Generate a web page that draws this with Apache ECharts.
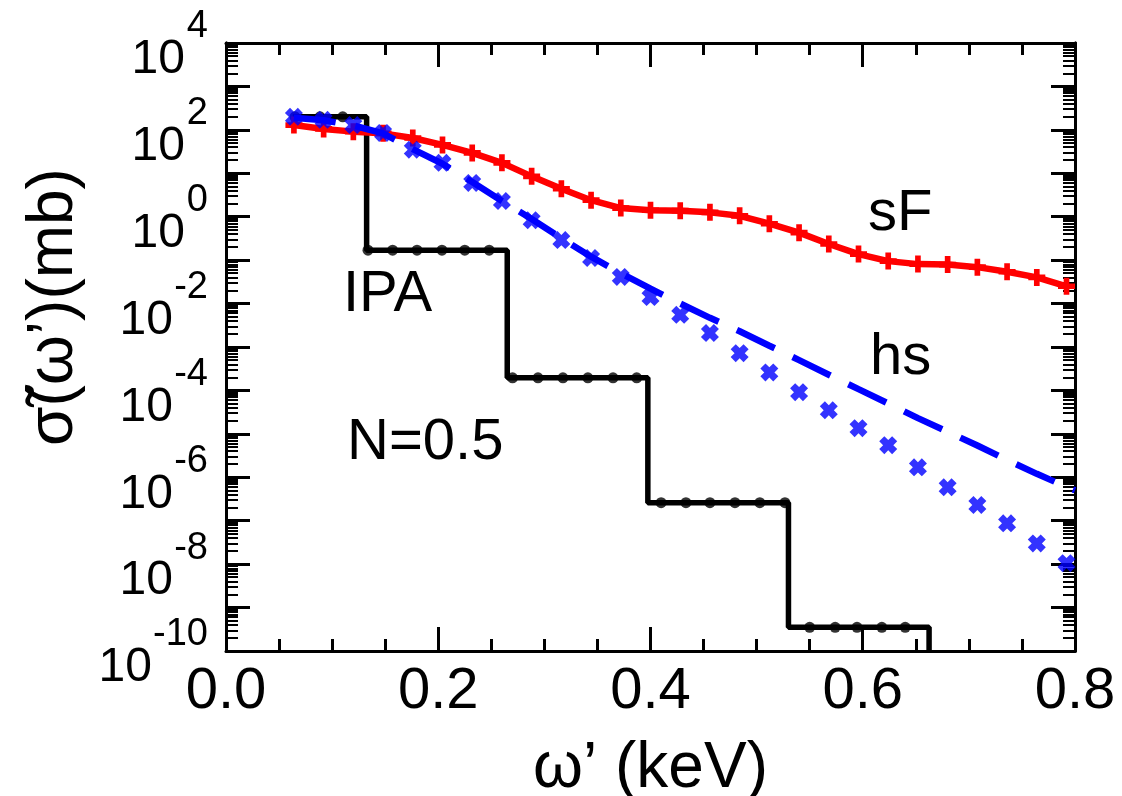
<!DOCTYPE html>
<html><head><meta charset="utf-8">
<script src="https://cdn.jsdelivr.net/npm/echarts@6/dist/echarts.min.js"></script>
<style>html,body{margin:0;padding:0;background:#fff}#c{width:1122px;height:796px}</style>
</head><body><div id="c"></div>
<script>
// ---------- data ----------
const xTickValues = [0, 0.2, 0.4, 0.6, 0.8];
const yLabelExps = [-10, -8, -6, -4, -2, 0, 2, 4];
const yDecadeExps = [-10, -9, -8, -7, -6, -5, -4, -3, -2, -1, 0, 1, 2, 3, 4];

// abscissas of the sF / hs markers (keV)
const markerX = [0.064, 0.092, 0.120, 0.148, 0.176, 0.204, 0.232, 0.260, 0.288, 0.316,
  0.344, 0.372, 0.400, 0.428, 0.456, 0.484, 0.512, 0.540, 0.568, 0.596,
  0.624, 0.652, 0.680, 0.708, 0.736, 0.764, 0.792];
// sF (red, solid + plus markers)
const sFValues = [1.29e2, 1.05e2, 9.1e1, 8.3e1, 6.5e1, 4.5e1, 2.95e1, 1.74e1, 8.5, 4.4,
  2.4, 1.58, 1.41, 1.38, 1.26, 1.05, 6.9e-1, 4.3e-1, 2.35e-1, 1.38e-1,
  9.5e-2, 8.1e-2, 7.9e-2, 6.9e-2, 5.4e-2, 4.0e-2, 2.5e-2];
// hs markers (blue crosses)
const hsMarkerValues = [2.0e2, 1.7e2, 1.29e2, 8.5e1, 3.5e1, 1.74e1, 6.0, 2.3, 8.3e-1, 2.9e-1,
  1.12e-1, 4.1e-2, 1.41e-2, 5.5e-3, 2.1e-3, 7.2e-4, 2.6e-4, 9.1e-5, 3.5e-5, 1.35e-5,
  5.5e-6, 1.7e-6, 5.9e-7, 2.3e-7, 8.7e-8, 3.0e-8, 1.05e-8];
// hs dashed line
const hsLineX = [0.064, 0.092, 0.120, 0.148, 0.176, 0.204, 0.232, 0.260, 0.288, 0.316,
  0.344, 0.372, 0.400, 0.428, 0.456, 0.484, 0.512, 0.540, 0.568, 0.596,
  0.624, 0.652, 0.680, 0.708, 0.736, 0.764, 0.792, 0.800];
const hsLineValues = [1.9e2, 1.66e2, 1.26e2, 8.3e1, 3.6e1, 1.66e1, 6.3, 2.3, 8.9e-1, 3.2e-1,
  1.2e-1, 5.0e-2, 2.2e-2, 1.0e-2, 4.7e-3, 2.3e-3, 1.07e-3, 5.0e-4, 2.3e-4, 1.07e-4,
  5.0e-5, 2.3e-5, 1.12e-5, 5.4e-6, 2.5e-6, 1.2e-6, 6.0e-7, 5.0e-7];
// IPA step line (black)
const ipaStepX = [0.063, 0.1325, 0.1325, 0.265, 0.265, 0.3975, 0.3975, 0.530, 0.530, 0.6625, 0.6625];
const ipaStepY = [2.0e2, 2.0e2, 1.7e-1, 1.7e-1, 1.95e-4, 1.95e-4, 2.6e-7, 2.6e-7, 3.5e-10, 3.5e-10, 1e-10];
// IPA dots
const ipaDotX = [0.065, 0.0886, 0.110, 0.1338, 0.157, 0.180, 0.2035, 0.225, 0.248,
  0.270, 0.294, 0.3175, 0.341, 0.3647, 0.387,
  0.410, 0.4334, 0.456, 0.4796, 0.503, 0.5267,
  0.550, 0.574, 0.5946, 0.618, 0.640];
const ipaDotY = [2.0e2, 2.0e2, 2.0e2, 1.7e-1, 1.7e-1, 1.7e-1, 1.7e-1, 1.7e-1, 1.7e-1,
  1.95e-4, 1.95e-4, 1.95e-4, 1.95e-4, 1.95e-4, 1.95e-4,
  2.6e-7, 2.6e-7, 2.6e-7, 2.6e-7, 2.6e-7, 2.6e-7,
  3.5e-10, 3.5e-10, 3.5e-10, 3.5e-10, 3.5e-10];

const annotations = [
  {text: 'sF', left: 868, y: 217},
  {text: 'hs', left: 870, y: 361},
  {text: 'IPA', left: 343, y: 298},
  {text: 'N=0.5', left: 347, y: 446}
];

// ---------- build ----------
const FONT = '"Liberation Sans", Arial, Helvetica, sans-serif';
const BASE_SIZE = 48, EXP_SIZE = 38;
const zip = (xs, ys) => xs.map((x, i) => [x, ys[i]]);
const majorVals = yDecadeExps.map(e => Math.pow(10, e));
const labelVals = yLabelExps.map(e => Math.pow(10, e));
const minorVals = [];
yDecadeExps.slice(0, -1).forEach(e => { for (let k = 2; k <= 9; k++) minorVals.push(k * Math.pow(10, e)); });

// measure exponent widths so that "10" sits just left of its superscript
const mctx = document.createElement('canvas').getContext('2d');
mctx.font = EXP_SIZE + 'px ' + FONT;
const yRich = {e: {fontSize: EXP_SIZE, fontFamily: FONT, color: '#000', lineHeight: 34}};
yLabelExps.forEach((ex, i) => {
  const w = Math.ceil(mctx.measureText(String(ex)).width) + 1;
  yRich['b' + i] = {fontSize: BASE_SIZE, fontFamily: FONT, color: '#000', lineHeight: 32, padding: [0, w, 0, 0]};
});

const PLUS = 'path://M2,0 H4 V2 H6 V4 H4 V6 H2 V4 H0 V2 H2 Z';
const CROSS = 'path://M0,1.7 L1.7,0 L3,1.3 L4.3,0 L6,1.7 L4.7,3 L6,4.3 L4.3,6 L3,4.7 L1.7,6 L0,4.3 L1.3,3 Z';

const axisLineStyle = {color: '#000', width: 3};
function xAx(pos, showLabel) {
  return {
    type: 'value', position: pos, min: 0, max: 0.8, interval: 0.2,
    axisLine: {show: true, onZero: false, lineStyle: axisLineStyle},
    axisTick: {show: true, inside: true, length: 24, lineStyle: {color: '#000', width: 3}},
    minorTick: {show: true, splitNumber: 4, length: 12, lineStyle: {color: '#000', width: 3}},
    splitLine: {show: false}, minorSplitLine: {show: false},
    axisLabel: {show: showLabel, fontSize: 58, fontFamily: FONT, color: '#000', margin: 12,
      showMinLabel: true, showMaxLabel: true, formatter: v => v.toFixed(1)},
    name: showLabel ? 'ω’ (keV)' : '', nameLocation: 'middle', nameGap: 86,
    nameTextStyle: {fontSize: 64, fontFamily: FONT, color: '#000'}
  };
}
function yAx(pos, major, showLabel) {
  const ax = {
    type: 'log', logBase: 10, position: pos, min: 1e-10, max: 1e4,
    axisLine: {show: true, onZero: false, lineStyle: axisLineStyle},
    axisTick: {show: true, inside: true, length: major ? 24 : 12,
      lineStyle: {color: '#000', width: major ? 3 : 2},
      customValues: major ? majorVals : minorVals},
    splitLine: {show: false},
    axisLabel: {show: false}
  };
  if (showLabel) {
    ax.axisLabel = {
      show: true, customValues: labelVals, margin: 18, align: 'right',
      formatter: v => {
        const ex = Math.round(Math.log10(v));
        const i = yLabelExps.indexOf(ex);
        return '{e|' + ex + '}\n{b' + i + '|10}';
      },
      rich: yRich
    };
    ax.name = 'σ̃(ω’)(mb)';
    ax.nameLocation = 'middle';
    ax.nameGap = 140;
    ax.nameRotate = 90;
    ax.nameTextStyle = {fontSize: 64, fontFamily: FONT, color: '#000', padding: [0, 0, 0, 80]};
  }
  return ax;
}

const chart = echarts.init(document.getElementById('c'), null, {renderer: 'canvas'});
chart.setOption({
  animation: false,
  backgroundColor: '#fff',
  grid: {left: 226, right: 47, top: 43, bottom: 145, containLabel: false, outerBoundsMode: 'none'},
  xAxis: [xAx('bottom', true), xAx('top', false)],
  yAxis: [yAx('left', true, true), yAx('left', false, false), yAx('right', true, false), yAx('right', false, false)],
  series: [
    {name: 'IPA', type: 'line', data: zip(ipaStepX, ipaStepY), showSymbol: false,
      lineStyle: {color: '#000', width: 5.5}, itemStyle: {color: '#000'}, z: 2},
    {name: 'IPA pts', type: 'scatter', data: zip(ipaDotX, ipaDotY), symbol: 'circle', symbolSize: 11,
      itemStyle: {color: '#000'}, z: 3},
    {name: 'sF', type: 'line', data: zip(markerX, sFValues), symbol: PLUS, symbolSize: 17, showAllSymbol: true,
      lineStyle: {color: '#ff0000', width: 6.5}, itemStyle: {color: '#ff0000'}, z: 4},
    {name: 'hs', type: 'line', data: zip(hsLineX, hsLineValues), showSymbol: false,
      lineStyle: {color: '#0000ff', width: 6.5, type: [42, 20]}, z: 5},
    {name: 'hs pts', type: 'scatter', data: zip(markerX, hsMarkerValues), symbol: CROSS, symbolSize: 18,
      itemStyle: {color: '#0000ff'}, z: 6}
  ],
  graphic: annotations.map(a => ({
    type: 'text', left: a.left, top: a.y - 32, z: 10,
    style: {text: a.text, fontSize: 58, fontFamily: FONT, fill: '#000'}
  }))
});
</script>
</body></html>
